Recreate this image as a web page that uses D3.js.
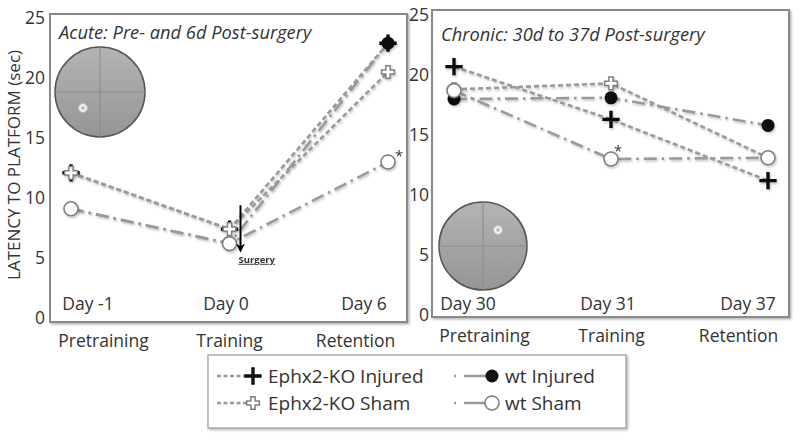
<!DOCTYPE html>
<html><head><meta charset="utf-8">
<script src="https://cdn.jsdelivr.net/npm/d3@7"></script>
<style>
body{margin:0;background:#fff;}
text{font-family:"Open Sans",sans-serif;fill:#333;}
</style></head>
<body><svg id="c" width="800" height="440"></svg>
<script>
// ---- data ----
const categories = ["Pretraining","Training","Retention"];
const acuteDays = ["Day -1","Day 0","Day 6"];
const chronicDays = ["Day 30","Day 31","Day 37"];
const yTicks = [0,5,10,15,20,25];
const seriesNames = ["Ephx2-KO Injured","wt Injured","Ephx2-KO Sham","wt Sham"];
// acute panel (pre- and 6d post-surgery)
const acuteKOInjured = [12.1, 7.4, 22.9];
const acuteWtInjured = [9.1, 6.2, 22.9];
const acuteKOSham    = [12.1, 7.4, 20.5];
const acuteWtSham    = [9.1, 6.2, 13.0];
// chronic panel (30d to 37d post-surgery)
const chronicKOInjured = [20.7, 16.3, 11.2];
const chronicWtInjured = [18.0, 18.1, 15.8];
const chronicKOSham    = [18.8, 19.3, 13.1];
const chronicWtSham    = [18.7, 13.0, 13.1];

const svg = d3.select("#c");
const defs = svg.append("defs");
const sh = defs.append("filter").attr("id","sh").attr("x","-5%").attr("y","-5%").attr("width","115%").attr("height","120%");
sh.append("feDropShadow").attr("dx",1.5).attr("dy",1.5).attr("stdDeviation",1.2).attr("flood-color","#000").attr("flood-opacity",0.3);
const lsh = defs.append("filter").attr("id","lsh").attr("x","-10%").attr("y","-10%").attr("width","130%").attr("height","140%");
lsh.append("feDropShadow").attr("dx",1).attr("dy",1.5).attr("stdDeviation",1).attr("flood-color","#000").attr("flood-opacity",0.25);
const grad = defs.append("linearGradient").attr("id","mz").attr("x1",0).attr("y1",0).attr("x2",0).attr("y2",1);
grad.append("stop").attr("offset","0%").attr("stop-color","#b4b4b4");
grad.append("stop").attr("offset","100%").attr("stop-color","#959595");

const lineColor = "#9a9a9a";
const styles = {
  "Ephx2-KO Injured":{dash:"5,3", marker:"bplus"},
  "Ephx2-KO Sham":{dash:"5,3", marker:"oplus"},
  "wt Injured":{dash:"13,5,2.5,5", marker:"bcirc"},
  "wt Sham":{dash:"13,5,2.5,5", marker:"ocirc"}
};

function drawMarker(g, type, x, y){
  if(type==="bplus"){
    g.append("path").attr("d", d3.symbol(d3.symbolPlus, 100)()).attr("transform",`translate(${x},${y})`)
      .attr("fill","none").attr("stroke","#111").attr("stroke-width",3.4);
  } else if(type==="oplus"){
    g.append("path").attr("d", d3.symbol(d3.symbolCross, 90)()).attr("transform",`translate(${x},${y})`)
      .attr("fill","#fff").attr("stroke","#808080").attr("stroke-width",1.5);
  } else if(type==="bcirc"){
    g.append("circle").attr("cx",x).attr("cy",y).attr("r",6.5).attr("fill","#111");
  } else {
    g.append("circle").attr("cx",x).attr("cy",y).attr("r",7).attr("fill","#fff").attr("stroke","#808080").attr("stroke-width",1.6);
  }
}

function maze(cx, cy, r, px, py){
  const g = svg.append("g");
  g.append("circle").attr("cx",cx).attr("cy",cy).attr("r",r).attr("fill","url(#mz)").attr("stroke","#555").attr("stroke-width",1.5);
  g.append("line").attr("x1",cx-r).attr("x2",cx+r).attr("y1",cy).attr("y2",cy).attr("stroke","#8a8a8a").attr("stroke-width",1);
  g.append("line").attr("x1",cx).attr("x2",cx).attr("y1",cy-r).attr("y2",cy+r).attr("stroke","#8a8a8a").attr("stroke-width",1);
  g.append("circle").attr("cx",px).attr("cy",py).attr("r",4.5).attr("fill","#eee").attr("stroke","#bbb").attr("stroke-width",1);
  g.append("circle").attr("cx",px).attr("cy",py).attr("r",1.8).attr("fill","#bbb");
}

function panel(cfg){
  const x = d3.scalePoint().domain(categories).range(cfg.xRange);
  const y = d3.scaleLinear().domain([0,25]).range(cfg.yRange);
  svg.append("rect").attr("x",cfg.box[0]).attr("y",cfg.box[1]).attr("width",cfg.box[2]).attr("height",cfg.box[3])
    .attr("fill","#fff").attr("stroke","#8a8a8a").attr("stroke-width",2).attr("filter","url(#sh)");
  const ax = svg.append("g").attr("transform",`translate(${cfg.box[0]},0)`)
    .call(d3.axisLeft(y).tickValues(yTicks).tickSize(0).tickPadding(cfg.pad));
  ax.select(".domain").remove();
  ax.selectAll("text").style("font-family","'Open Sans',sans-serif").style("font-size","17.5px").attr("fill","#333");
  // category labels under the panel
  const xc = d3.scalePoint().domain(categories).range(cfg.catRange);
  const cx = svg.append("g").attr("transform",`translate(0,${cfg.catY})`).call(d3.axisBottom(xc).tickSize(0).tickPadding(0));
  cx.select(".domain").remove();
  cx.selectAll("text").style("font-family","'Open Sans',sans-serif").style("font-size","17.5px").attr("fill","#333").attr("dy","0");
  // day labels inside panel
  const xd = d3.scalePoint().domain(cfg.days).range(cfg.dayRange);
  svg.append("g").selectAll("text").data(cfg.days).join("text")
    .attr("x",d=>xd(d)).attr("y",cfg.dayY).attr("text-anchor","middle").style("font-size","17.5px").text(d=>d);
  // title
  svg.append("text").attr("x",cfg.box[0]+9).attr("y",cfg.titleY).style("font-style","italic").style("font-size","18.3px").text(cfg.title);
  cfg.maze();
  const line = d3.line().x((d,i)=>x(categories[i])).y(d=>y(d));
  const gl = svg.append("g").attr("filter","url(#lsh)");
  cfg.series.forEach(s=>{
    gl.append("path").attr("d",line(s.values)).attr("fill","none").attr("stroke",lineColor)
      .attr("stroke-width",2.6).attr("stroke-dasharray",styles[s.name].dash);
  });
  const gm = svg.append("g").attr("filter","url(#lsh)");
  cfg.series.forEach(s=>{
    s.values.forEach((v,i)=>drawMarker(gm, styles[s.name].marker, x(categories[i]), y(v)));
  });
  return {x,y};
}

const left = panel({
  box:[50,14,357,308], xRange:[71,388], yRange:[318,18], pad:5,
  catRange:[103,355], catY:347, days:acuteDays, dayRange:[88,364], dayY:310,
  title:"Acute: Pre- and 6d Post-surgery", titleY:39,
  maze:()=>maze(100,92,45,83,108),
  series:[
    {name:"Ephx2-KO Injured", values:acuteKOInjured},
    {name:"wt Injured", values:acuteWtInjured},
    {name:"Ephx2-KO Sham", values:acuteKOSham},
    {name:"wt Sham", values:acuteWtSham}
  ]
});
const right = panel({
  box:[432,10,357,307], xRange:[454,768], yRange:[315,15], pad:3,
  catRange:[484,738], catY:342, days:chronicDays, dayRange:[468,748], dayY:310,
  title:"Chronic: 30d to 37d Post-surgery", titleY:41,
  maze:()=>maze(483,246,44,498,230),
  series:[
    {name:"Ephx2-KO Injured", values:chronicKOInjured},
    {name:"wt Injured", values:chronicWtInjured},
    {name:"Ephx2-KO Sham", values:chronicKOSham},
    {name:"wt Sham", values:chronicWtSham}
  ]
});

// significance asterisks
svg.append("text").attr("x",left.x("Retention")+7).attr("y",left.y(acuteWtSham[2])-1).style("font-size","15px").attr("fill","#111").text("*");
svg.append("text").attr("x",right.x("Training")+3).attr("y",right.y(chronicWtSham[1])-3).style("font-size","15px").attr("fill","#111").text("*");

// surgery arrow
defs.append("marker").attr("id","ah").attr("viewBox","0 0 10 10").attr("refX",8).attr("refY",5)
  .attr("markerWidth",4.5).attr("markerHeight",4.5).attr("markerUnits","strokeWidth").attr("orient","auto")
  .append("path").attr("d","M0,0 L10,5 L0,10 L3,5 Z").attr("fill","#000");
const sx = left.x("Training")+11;
svg.append("line").attr("x1",sx).attr("x2",sx).attr("y1",left.y(9.4)).attr("y2",left.y(5.6)).attr("stroke","#000").attr("stroke-width",2).attr("marker-end","url(#ah)");
svg.append("text").attr("x",sx-2).attr("y",left.y(4.6)).style("font-size","9.5px").style("font-weight","bold").style("text-decoration","underline").attr("fill","#222").text("Surgery");

// y axis title
svg.append("text").attr("transform","translate(20,165) rotate(-90)").attr("text-anchor","middle").style("font-size","17px").text("LATENCY TO PLATFORM (sec)");

// legend
const lg = svg.append("g");
lg.append("rect").attr("x",208).attr("y",355).attr("width",418).attr("height",73).attr("fill","#fff").attr("stroke","#999").attr("stroke-width",1.2).attr("filter","url(#sh)");
const legendItems = [
  {name:"Ephx2-KO Injured", col:0, row:0},
  {name:"Ephx2-KO Sham", col:0, row:1},
  {name:"wt Injured", col:1, row:0},
  {name:"wt Sham", col:1, row:1}
];
legendItems.forEach(it=>{
  const yy = 376 + it.row*27;
  const mx = it.col===0 ? 253 : 492;
  const lx0 = it.col===0 ? 217 : 454;
  lg.append("line").attr("x1",lx0).attr("x2",mx).attr("y1",yy).attr("y2",yy).attr("stroke",lineColor).attr("stroke-width",2.4)
    .attr("stroke-dasharray", it.col===0 ? "4,2.5" : "2,8,30");
  drawMarker(lg, styles[it.name].marker, mx, yy);
  lg.append("text").attr("x", it.col===0 ? 268 : 505).attr("y",yy+6.5).style("font-size","19px").attr("fill","#222").text(it.name);
});
</script></body></html>
